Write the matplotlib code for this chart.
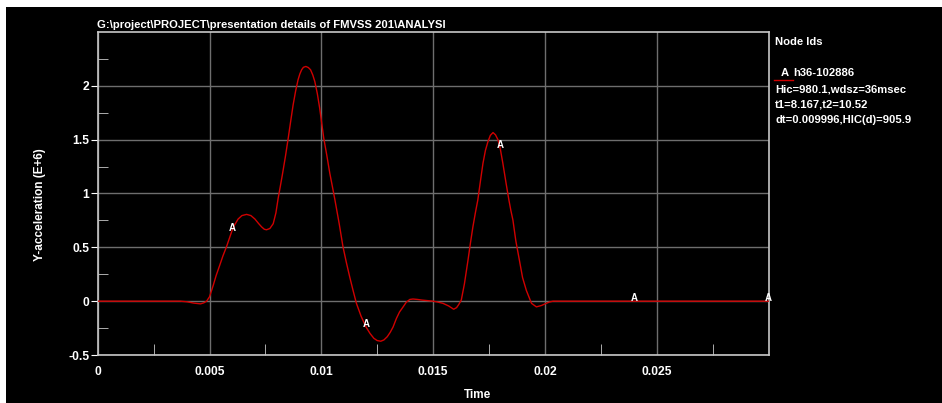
import matplotlib
matplotlib.use("Agg")
import matplotlib.pyplot as plt
import numpy as np
from matplotlib.patches import Rectangle
from matplotlib.lines import Line2D

plt.rcParams['font.family'] = ['Liberation Sans', 'DejaVu Sans']

# ---- data ----
time = [0.0, 0.0037, 0.0040, 0.0043, 0.0046, 0.00475, 0.00487, 0.005, 0.00517, 0.0053,
        0.00546, 0.0056, 0.00576, 0.00599, 0.0061, 0.00628, 0.00645, 0.00666, 0.00685,
        0.00703, 0.0072, 0.00733, 0.00745, 0.00755, 0.0077, 0.00785, 0.00797, 0.00807,
        0.00817, 0.00827, 0.0084, 0.00852, 0.00863, 0.00874, 0.00885, 0.00896, 0.00904,
        0.00912, 0.0092, 0.00931, 0.00942, 0.00952, 0.00962, 0.00971, 0.00982, 0.00993,
        0.01002, 0.01011, 0.01025, 0.01038, 0.0105, 0.01061, 0.0108, 0.01097, 0.01112,
        0.01127, 0.01142, 0.01157, 0.01178, 0.012, 0.01218, 0.01235, 0.0125, 0.01266,
        0.0128, 0.01295, 0.01308, 0.01321, 0.01336, 0.0135, 0.01366, 0.0138, 0.01396,
        0.0141, 0.0143, 0.0145, 0.0148, 0.015, 0.0152, 0.01544, 0.0157, 0.01592, 0.01605,
        0.01615, 0.01626, 0.0164, 0.01656, 0.01667, 0.01678, 0.01689, 0.017, 0.01712,
        0.01723, 0.01734, 0.01745, 0.01756, 0.01768, 0.01779, 0.0179, 0.01801, 0.01812,
        0.01826, 0.01839, 0.01848, 0.01857, 0.0187, 0.01886, 0.019, 0.01917, 0.0194,
        0.01962, 0.01985, 0.02006, 0.0202, 0.02036, 0.03]
accel = [0.0, 0.0, -0.006, -0.018, -0.025, -0.015, 0.0, 0.04, 0.149, 0.24,
         0.335, 0.42, 0.505, 0.645, 0.70, 0.763, 0.795, 0.806, 0.795,
         0.763, 0.72, 0.69, 0.668, 0.663, 0.675, 0.72, 0.82, 0.955,
         1.07, 1.188, 1.35, 1.513, 1.67, 1.823, 1.95, 2.056, 2.11,
         2.149, 2.172, 2.18, 2.17, 2.149, 2.10, 2.04, 1.93, 1.79,
         1.65, 1.513, 1.35, 1.188, 1.06, 0.94, 0.72, 0.505, 0.36,
         0.226, 0.10, -0.02, -0.14, -0.24, -0.30, -0.345, -0.366, -0.372,
         -0.36, -0.33, -0.29, -0.24, -0.16, -0.10, -0.053, -0.01, 0.016,
         0.02, 0.016, 0.01, 0.004, 0.0, -0.008, -0.02, -0.045, -0.075, -0.06,
         -0.03, 0.01, 0.16, 0.38, 0.54, 0.69, 0.82, 0.94, 1.12,
         1.28, 1.40, 1.48, 1.54, 1.566, 1.545, 1.50, 1.41, 1.28,
         1.10, 0.94, 0.84, 0.753, 0.56, 0.38, 0.22, 0.10, -0.02,
         -0.053, -0.04, -0.02, -0.008, 0.0, 0.0]
marker_times = [0.006, 0.012, 0.018, 0.024, 0.03]

title = r"G:\project\PROJECT\presentation details of FMVSS 201\ANALYSI"
legend_lines = ["Hic=980.1,wdsz=36msec", "t1=8.167,t2=10.52", "dt=0.009996,HIC(d)=905.9"]
xticks = [0, 0.005, 0.01, 0.015, 0.02, 0.025]
xticklabels = ["0", "0.005", "0.01", "0.015", "0.02", "0.025"]
yticks = [-0.5, 0, 0.5, 1, 1.5, 2]
yticklabels = ["-0.5", "0", "0.5", "1", "1.5", "2"]

W, H = 942, 403
fig = plt.figure(figsize=(W / 100, H / 100), dpi=100, facecolor='white')
fig.patches.append(Rectangle((6 / W, 0), 1 - 6 / W, 1 - 7 / H, transform=fig.transFigure,
                             facecolor='black', edgecolor='none', zorder=-10))

ax = fig.add_axes([97.7 / W, 1 - 355 / H, (768.5 - 97.7) / W, (355 - 32) / H])
ax.set_facecolor('black')
ax.set_xlim(0, 0.03)
ax.set_ylim(-0.5, 2.5)

ax.plot(time, accel, color='#d00000', lw=1.0, zorder=3)

mk_y = np.interp(marker_times, time, accel)
for t, y in zip(marker_times, mk_y):
    ax.annotate("A", (t, y), xytext=(0, 2.5), textcoords='offset points',
                ha='center', va='center', color='white', fontsize=7, fontweight='bold',
                zorder=4, annotation_clip=False)

ax.set_xticks(xticks)
ax.set_xticklabels(xticklabels)
ax.set_yticks(yticks)
ax.set_yticklabels(yticklabels)
ax.set_xticks(np.arange(0.0025, 0.03, 0.005), minor=True)
ax.set_yticks(np.arange(-0.25, 2.5, 0.5), minor=True)

ax.grid(True, which='major', color='#6e6e6e', lw=1.0, zorder=0)
ax.tick_params(axis='x', which='major', length=0, pad=8, labelsize=8.7, colors='white')
ax.tick_params(axis='y', which='major', length=5, direction='out', pad=1, labelsize=8.7,
               colors='white')
ax.tick_params(axis='x', which='minor', length=8, direction='in', color='#c8c8c8')
ax.tick_params(axis='y', which='minor', length=7, direction='in', color='#c8c8c8')
for lab in ax.get_xticklabels() + ax.get_yticklabels():
    lab.set_fontweight('bold')
for sp in ax.spines.values():
    sp.set_color('#c8c8c8')
    sp.set_linewidth(1.2)

fs = 8.1
fig.text(97 / W, 1 - 25 / H, title, color='white', fontsize=fs, fontweight='bold',
         ha='left', va='center')
fig.text(40 / W, 1 - 205 / H, "Y-acceleration (E+6)", color='white', fontsize=8.5,
         fontweight='bold', rotation=90, ha='center', va='center')
fig.text(478 / W, 1 - 395 / H, "Time", color='white', fontsize=8.5, fontweight='bold',
         ha='center', va='center')

fig.text(775 / W, 1 - 42 / H, "Node Ids", color='white', fontsize=fs, fontweight='bold',
         ha='left', va='center')
fig.text(780.5 / W, 1 - 73 / H, "A", color='white', fontsize=fs, fontweight='bold',
         ha='left', va='center')
fig.text(793 / W, 1 - 73 / H, "h36-102886", color='white', fontsize=fs, fontweight='bold',
         ha='left', va='center')
fig.lines.append(Line2D([774 / W, 793 / W], [1 - 79.5 / H, 1 - 79.5 / H],
                        transform=fig.transFigure, color='#d00000', lw=1.0))
for i, s in enumerate(legend_lines):
    fig.text(775 / W, 1 - (89 + 15.3 * i) / H, s, color='white', fontsize=fs,
             fontweight='bold', ha='left', va='center')

fig.savefig("out.png", dpi=100, facecolor=fig.get_facecolor())
